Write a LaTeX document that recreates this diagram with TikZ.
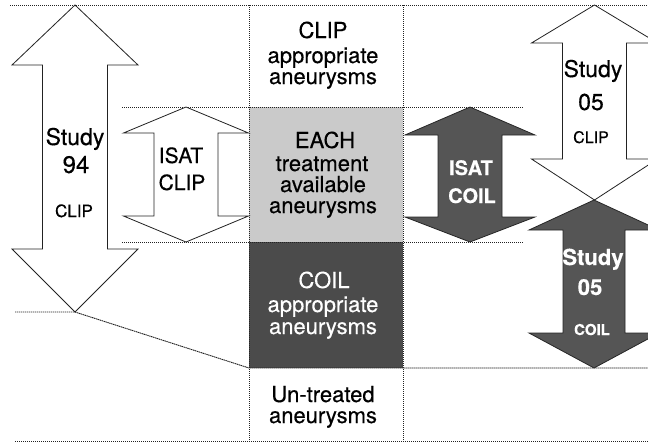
\documentclass[tikz,border=0pt]{standalone}
\usepackage{fontspec}
\setmainfont{TeX Gyre Heros}[FakeBold=0.35]
\definecolor{lightbox}{HTML}{CACACA}
\definecolor{darkbox}{HTML}{4B4B4B}
\definecolor{darkarrow}{HTML}{555555}
\definecolor{lineclr}{HTML}{222222}
\newcommand\myDArrow[8]{%
  \path[#1] (#2,#3) -- ({#2+#7},#4) -- ({#2+#8},#4) -- ({#2+#8},#5) -- ({#2+#7},#5)
   -- (#2,#6) -- ({#2-#7},#5) -- ({#2-#8},#5) -- ({#2-#8},#4) -- ({#2-#7},#4) -- cycle;}
\tikzset{
  gridline/.style={draw=lineclr, line width=0.9pt, dash pattern=on 1.4pt off 0.6pt},
  whitearrow/.style={draw=lineclr, fill=white, line width=0.8pt, line join=miter},
  darkarr/.style={draw=black!85, fill=darkarrow, line width=0.8pt, line join=miter},
  colbox/.style={rectangle, draw=none, minimum width=154pt, inner sep=0pt},
  txt/.style={anchor=base, inner sep=0pt, font=\fontsize{22}{22}\selectfont},
  wtxt/.style={txt, text=white},
  big/.style={anchor=base, inner sep=0pt, font=\fontsize{23}{23}\selectfont},
  wbig/.style={big, text=white, font=\fontsize{22}{22}\selectfont\bfseries},
  small/.style={anchor=base, inner sep=0pt, font=\fontsize{16}{16}\selectfont},
  wsmall/.style={small, text=white, font=\fontsize{15}{15}\selectfont\bfseries},
  mid/.style={anchor=base, inner sep=0pt, font=\fontsize{21}{21}\selectfont},
  wmid/.style={mid, text=white, font=\fontsize{20}{20}\selectfont\bfseries},
}
\begin{document}
\begin{tikzpicture}[x=1pt, y=-1pt]
\useasboundingbox (0,0) rectangle (648,442);
\clip (0,0) rectangle (648,442);
% column boxes
\node[colbox, fill=white, minimum height=102pt] (boxclip) at (326,56) {};
\node[colbox, fill=lightbox, minimum height=135pt] (boxeach) at (326,174.5) {};
\node[colbox, fill=darkbox, minimum height=126pt] (boxcoil) at (326,305) {};
\node[colbox, fill=white, minimum height=74pt] (boxun) at (326,405) {};
% grid lines
\draw[gridline] (10,5) -- (648,5);
\draw[gridline] (249,5) -- (249,442);
\draw[gridline] (403,5) -- (403,442);
\draw[gridline] (122,107) -- (523,107);
\draw[gridline] (122,242) -- (523,242);
\draw[gridline] (15,312) -- (75,312) -- (249,368) -- (403,368) -- (648,368);
\draw[gridline] (15,441) -- (648,441);
% arrows
\myDArrow{whitearrow}{75}{5}{65}{249}{312}{63}{32.5}
\myDArrow{whitearrow}{186}{107}{133}{216}{242}{62.5}{32}
\myDArrow{darkarr}{470}{107}{135}{217}{242}{65}{32}
\myDArrow{whitearrow}{594.5}{5}{43}{159}{200}{63}{32}
\myDArrow{darkarr}{594}{200}{230}{333}{368}{65}{31}
% column text
\node[txt] (t1a) at (323,38) {CLIP};
\node[txt] (t1b) at (323,63) {appropriate};
\node[txt] (t1c) at (323,84) {aneurysms};
\node[txt] (t2a) at (325,148) {EACH};
\node[txt] (t2b) at (322,171) {treatment};
\node[txt] (t2c) at (323,192) {available};
\node[txt] (t2d) at (323,213) {aneurysms};
\node[wtxt] (t3a) at (324,288) {COIL};
\node[wtxt] (t3b) at (323,312) {appropriate};
\node[wtxt] (t3c) at (323,334) {aneurysms};
\node[txt] (t4a) at (323,402) {Un-treated};
\node[txt] (t4b) at (323,423) {aneurysms};
% arrow labels
\node[big] (s94a) at (75,145) {Study};
\node[big, font=\fontsize{24}{24}\selectfont] (s94b) at (76,173) {94};
\node[small, font=\fontsize{17}{17}\selectfont] (s94c) at (74,217) {CLIP};
\node[mid] (icA) at (181,163) {ISAT};
\node[mid] (icB) at (182,190) {CLIP};
\node[wmid] (icoA) at (471,175) {ISAT};
\node[wmid] (icoB) at (472,203) {COIL};
\node[big] (s05a) at (593,77) {Study};
\node[big] (s05b) at (591,110) {05};
\node[small] (s05c) at (591,143) {CLIP};
\node[wbig] (s05d) at (593,265) {Study};
\node[wbig] (s05e) at (590,295) {05};
\node[wsmall] (s05f) at (592,335) {COIL};
\end{tikzpicture}
\end{document}
